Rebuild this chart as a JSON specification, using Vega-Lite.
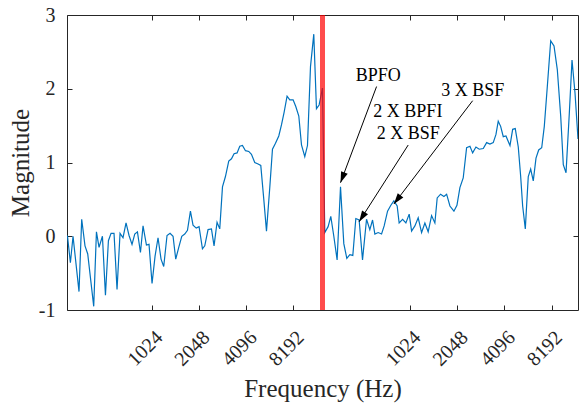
{
  "$schema": "https://vega.github.io/schema/vega-lite/v6.json",
  "width": 511,
  "height": 295,
  "autosize": {"type": "none"},
  "padding": {"left": 67, "top": 15, "right": 1, "bottom": 97},
  "background": "white",
  "config": {
    "font": "'Liberation Serif', 'Times New Roman', 'DejaVu Serif', serif",
    "view": {"stroke": "#262626", "strokeWidth": 1},
    "axis": {
      "grid": false, "domain": false,
      "tickColor": "#262626", "tickSize": -5, "tickWidth": 1,
      "labelFont": "'Liberation Serif', 'Times New Roman', 'DejaVu Serif', serif", "labelFontSize": 20, "labelColor": "#262626",
      "titleFont": "'Liberation Serif', 'Times New Roman', 'DejaVu Serif', serif", "titleFontSize": 25, "titleColor": "#262626", "titleFontWeight": "normal",
      "labelOverlap": false, "labelFlush": false
    }
  },
  "datasets": {
    "half1": [
      {"octave": 8.204, "magnitude": 0.01}, {"octave": 8.267, "magnitude": -0.36}, {"octave": 8.323, "magnitude": 0.0},
      {"octave": 8.45, "magnitude": -0.75}, {"octave": 8.507, "magnitude": 0.23}, {"octave": 8.577, "magnitude": -0.13},
      {"octave": 8.635, "magnitude": -0.24}, {"octave": 8.762, "magnitude": -0.95}, {"octave": 8.82, "magnitude": 0.06},
      {"octave": 8.875, "magnitude": -0.15}, {"octave": 8.947, "magnitude": 0.0}, {"octave": 9.011, "magnitude": -0.8},
      {"octave": 9.074, "magnitude": -0.06}, {"octave": 9.13, "magnitude": 0.04}, {"octave": 9.193, "magnitude": 0.04},
      {"octave": 9.257, "magnitude": -0.72}, {"octave": 9.321, "magnitude": 0.04}, {"octave": 9.384, "magnitude": -0.02},
      {"octave": 9.448, "magnitude": 0.18}, {"octave": 9.512, "magnitude": 0.01}, {"octave": 9.575, "magnitude": -0.11},
      {"octave": 9.633, "magnitude": 0.03}, {"octave": 9.69, "magnitude": 0.06}, {"octave": 9.754, "magnitude": -0.22},
      {"octave": 9.809, "magnitude": 0.14}, {"octave": 9.881, "magnitude": -0.12}, {"octave": 9.936, "magnitude": -0.11},
      {"octave": 10.0, "magnitude": -0.64}, {"octave": 10.064, "magnitude": -0.27}, {"octave": 10.127, "magnitude": -0.02},
      {"octave": 10.191, "magnitude": -0.31}, {"octave": 10.248, "magnitude": -0.41}, {"octave": 10.318, "magnitude": 0.01},
      {"octave": 10.382, "magnitude": 0.04}, {"octave": 10.446, "magnitude": 0.0}, {"octave": 10.503, "magnitude": -0.31},
      {"octave": 10.567, "magnitude": -0.15}, {"octave": 10.631, "magnitude": 0.0}, {"octave": 10.694, "magnitude": 0.03},
      {"octave": 10.752, "magnitude": 0.08}, {"octave": 10.815, "magnitude": 0.34}, {"octave": 10.87, "magnitude": 0.15},
      {"octave": 10.938, "magnitude": 0.11}, {"octave": 10.998, "magnitude": 0.13}, {"octave": 11.07, "magnitude": -0.17},
      {"octave": 11.119, "magnitude": -0.13}, {"octave": 11.189, "magnitude": 0.09}, {"octave": 11.261, "magnitude": 0.1},
      {"octave": 11.316, "magnitude": -0.13}, {"octave": 11.38, "magnitude": 0.19}, {"octave": 11.437, "magnitude": 0.1},
      {"octave": 11.495, "magnitude": 0.67}, {"octave": 11.558, "magnitude": 0.81}, {"octave": 11.628, "magnitude": 1.02},
      {"octave": 11.686, "magnitude": 1.05}, {"octave": 11.741, "magnitude": 1.12}, {"octave": 11.805, "magnitude": 1.13},
      {"octave": 11.862, "magnitude": 1.22}, {"octave": 11.919, "magnitude": 1.23}, {"octave": 11.983, "magnitude": 1.16},
      {"octave": 12.053, "magnitude": 1.15}, {"octave": 12.11, "magnitude": 1.11}, {"octave": 12.18, "magnitude": 1.0},
      {"octave": 12.251, "magnitude": 0.98}, {"octave": 12.308, "magnitude": 0.96}, {"octave": 12.372, "magnitude": 0.5},
      {"octave": 12.429, "magnitude": 0.07}, {"octave": 12.499, "magnitude": 0.66}, {"octave": 12.556, "magnitude": 1.18},
      {"octave": 12.62, "magnitude": 1.26}, {"octave": 12.69, "magnitude": 1.36}, {"octave": 12.747, "magnitude": 1.51},
      {"octave": 12.803, "magnitude": 1.68}, {"octave": 12.866, "magnitude": 1.9}, {"octave": 12.924, "magnitude": 1.85},
      {"octave": 12.994, "magnitude": 1.85}, {"octave": 13.051, "magnitude": 1.76}, {"octave": 13.115, "magnitude": 1.63},
      {"octave": 13.172, "magnitude": 1.24}, {"octave": 13.242, "magnitude": 1.08}, {"octave": 13.299, "magnitude": 1.23},
      {"octave": 13.363, "magnitude": 2.3}, {"octave": 13.433, "magnitude": 2.74}, {"octave": 13.49, "magnitude": 1.73},
      {"octave": 13.546, "magnitude": 1.78}, {"octave": 13.618, "magnitude": 2.01}
    ],
    "half2": [
      {"octave": 8.14, "magnitude": 2.01}, {"octave": 8.189, "magnitude": 0.05}, {"octave": 8.259, "magnitude": 0.13},
      {"octave": 8.316, "magnitude": 0.27}, {"octave": 8.38, "magnitude": 0.0}, {"octave": 8.45, "magnitude": -0.32},
      {"octave": 8.522, "magnitude": 0.67}, {"octave": 8.592, "magnitude": -0.1}, {"octave": 8.656, "magnitude": -0.3},
      {"octave": 8.72, "magnitude": -0.25}, {"octave": 8.783, "magnitude": -0.26}, {"octave": 8.847, "magnitude": 0.24},
      {"octave": 8.917, "magnitude": 0.22}, {"octave": 8.989, "magnitude": -0.32}, {"octave": 9.074, "magnitude": 0.23},
      {"octave": 9.144, "magnitude": 0.09}, {"octave": 9.202, "magnitude": 0.22}, {"octave": 9.251, "magnitude": 0.03},
      {"octave": 9.321, "magnitude": 0.05}, {"octave": 9.393, "magnitude": 0.03}, {"octave": 9.448, "magnitude": 0.14},
      {"octave": 9.52, "magnitude": 0.34}, {"octave": 9.59, "magnitude": 0.42}, {"octave": 9.654, "magnitude": 0.48},
      {"octave": 9.724, "magnitude": 0.41}, {"octave": 9.766, "magnitude": 0.18}, {"octave": 9.839, "magnitude": 0.23},
      {"octave": 9.909, "magnitude": 0.18}, {"octave": 9.979, "magnitude": 0.3}, {"octave": 10.03, "magnitude": 0.07},
      {"octave": 10.1, "magnitude": 0.14}, {"octave": 10.17, "magnitude": 0.25}, {"octave": 10.242, "magnitude": 0.05},
      {"octave": 10.312, "magnitude": 0.18}, {"octave": 10.382, "magnitude": 0.06}, {"octave": 10.454, "magnitude": 0.28},
      {"octave": 10.524, "magnitude": 0.18}, {"octave": 10.573, "magnitude": 0.52}, {"octave": 10.645, "magnitude": 0.57},
      {"octave": 10.716, "magnitude": 0.54}, {"octave": 10.773, "magnitude": 0.57}, {"octave": 10.843, "magnitude": 0.41},
      {"octave": 10.928, "magnitude": 0.34}, {"octave": 10.992, "magnitude": 0.42}, {"octave": 11.055, "magnitude": 0.66},
      {"octave": 11.125, "magnitude": 0.79}, {"octave": 11.197, "magnitude": 1.2}, {"octave": 11.268, "magnitude": 1.22},
      {"octave": 11.325, "magnitude": 1.13}, {"octave": 11.395, "magnitude": 1.21}, {"octave": 11.465, "magnitude": 1.18},
      {"octave": 11.55, "magnitude": 1.19}, {"octave": 11.622, "magnitude": 1.27}, {"octave": 11.692, "magnitude": 1.25},
      {"octave": 11.762, "magnitude": 1.27}, {"octave": 11.82, "magnitude": 1.38}, {"octave": 11.868, "magnitude": 1.56},
      {"octave": 11.919, "magnitude": 1.49}, {"octave": 11.975, "magnitude": 1.35}, {"octave": 12.032, "magnitude": 1.36},
      {"octave": 12.117, "magnitude": 1.23}, {"octave": 12.174, "magnitude": 1.45}, {"octave": 12.229, "magnitude": 1.46},
      {"octave": 12.293, "magnitude": 1.21}, {"octave": 12.344, "magnitude": 0.81}, {"octave": 12.386, "magnitude": 0.41},
      {"octave": 12.442, "magnitude": 0.1}, {"octave": 12.505, "magnitude": 0.81}, {"octave": 12.556, "magnitude": 0.91},
      {"octave": 12.611, "magnitude": 0.75}, {"octave": 12.669, "magnitude": 1.06}, {"octave": 12.726, "magnitude": 1.17},
      {"octave": 12.79, "magnitude": 1.2}, {"octave": 12.845, "magnitude": 1.49}, {"octave": 12.909, "magnitude": 2.03},
      {"octave": 12.981, "magnitude": 2.65}, {"octave": 13.051, "magnitude": 2.58}, {"octave": 13.121, "magnitude": 2.26},
      {"octave": 13.193, "magnitude": 1.63}, {"octave": 13.248, "magnitude": 0.97}, {"octave": 13.306, "magnitude": 0.86},
      {"octave": 13.376, "magnitude": 1.67}, {"octave": 13.433, "magnitude": 2.39}, {"octave": 13.497, "magnitude": 1.94},
      {"octave": 13.56, "magnitude": 1.32}
    ],
    "divider": [{"octave": 13.618}],
    "notes": [
      {"octave": 9.321, "magnitude": 2.109, "label": "BPFO"},
      {"octave": 9.951, "magnitude": 1.613, "label": "2 X BPFI"},
      {"octave": 9.958, "magnitude": 1.315, "label": "2 X BSF"},
      {"octave": 11.327, "magnitude": 1.902, "label": "3 X BSF"}
    ],
    "arrows": [
      {"id": "BPFO", "octave": 9.287, "magnitude": 2.03, "tipOctave": 8.522, "tipMagnitude": 0.726},
      {"id": "2X", "octave": 9.958, "magnitude": 1.237, "tipOctave": 8.917, "tipMagnitude": 0.197},
      {"id": "3X", "octave": 11.325, "magnitude": 1.838, "tipOctave": 9.654, "tipMagnitude": 0.437}
    ]
  },
  "layer": [
    {
      "data": {"name": "half1"},
      "mark": {"type": "line", "color": "#0072BD", "strokeWidth": 1.2, "clip": true},
      "encoding": {
        "x": {"field": "octave", "type": "quantitative",
          "scale": {"domain": [8.195, 13.618], "range": [0, 255.5], "nice": false, "zero": false},
          "axis": {"orient": "bottom", "values": [10, 11, 12, 13], "labelExpr": "'' + pow(2, datum.value)",
            "labelAngle": -45, "labelAlign": "right", "labelBaseline": "middle", "labelPadding": 29, "labelOffset": 7,
            "title": "Frequency (Hz)", "titleX": 255.5, "titleY": 86, "titleAlign": "center", "titleBaseline": "alphabetic"}},
        "y": {"field": "magnitude", "type": "quantitative",
          "scale": {"domain": [-1, 3], "nice": false, "zero": false},
          "axis": {"orient": "left", "values": [-1, 0, 1, 2, 3],
            "labelExpr": "datum.value < 0 ? '-' + abs(datum.value) : '' + datum.value",
            "labelPadding": 17, "title": "Magnitude", "titleX": -38.5, "titleY": 147.5, "titleAngle": -90,
            "titleAlign": "center", "titleBaseline": "alphabetic"}}
      }
    },
    {
      "data": {"name": "half2"},
      "mark": {"type": "line", "color": "#0072BD", "strokeWidth": 1.2, "clip": true},
      "encoding": {
        "x": {"field": "octave", "type": "quantitative",
          "scale": {"domain": [8.14, 13.56], "range": [255.5, 511], "nice": false, "zero": false},
          "axis": {"orient": "bottom", "values": [10, 11, 12, 13], "labelExpr": "'' + pow(2, datum.value)",
            "labelAngle": -45, "labelAlign": "right", "labelBaseline": "middle", "labelPadding": 29, "labelOffset": 7,
            "title": null}},
        "y": {"field": "magnitude", "type": "quantitative",
          "scale": {"domain": [-1, 3], "nice": false, "zero": false},
          "axis": {"orient": "right", "values": [0, 1, 2], "labels": false, "title": null}}
      }
    },
    {
      "data": {"name": "half1"},
      "mark": {"type": "line", "opacity": 0},
      "encoding": {
        "x": {"field": "octave", "type": "quantitative",
          "scale": {"domain": [8.195, 13.618], "range": [0, 255.5], "nice": false, "zero": false},
          "axis": {"orient": "top", "values": [10, 11, 12, 13], "labels": false, "title": null}},
        "y": {"field": "magnitude", "type": "quantitative",
          "scale": {"domain": [-1, 3], "nice": false, "zero": false}, "axis": null}
      }
    },
    {
      "data": {"name": "half2"},
      "mark": {"type": "line", "opacity": 0},
      "encoding": {
        "x": {"field": "octave", "type": "quantitative",
          "scale": {"domain": [8.14, 13.56], "range": [255.5, 511], "nice": false, "zero": false},
          "axis": {"orient": "top", "values": [10, 11, 12, 13], "labels": false, "title": null}},
        "y": {"field": "magnitude", "type": "quantitative",
          "scale": {"domain": [-1, 3], "nice": false, "zero": false}, "axis": null}
      }
    },
    {
      "data": {"name": "divider"},
      "mark": {"type": "rule", "color": "#FF0000", "opacity": 0.7, "strokeWidth": 5},
      "encoding": {
        "x": {"field": "octave", "type": "quantitative",
          "scale": {"domain": [8.195, 13.618], "range": [0, 255.5], "nice": false, "zero": false}, "axis": null}
      }
    },
    {
      "data": {"name": "arrows"},
      "mark": {"type": "rule", "color": "black", "strokeWidth": 1},
      "encoding": {
        "x": {"field": "octave", "type": "quantitative",
          "scale": {"domain": [8.14, 13.56], "range": [255.5, 511], "nice": false, "zero": false}, "axis": null},
        "x2": {"field": "tipOctave"},
        "y": {"field": "magnitude", "type": "quantitative",
          "scale": {"domain": [-1, 3], "nice": false, "zero": false}, "axis": null},
        "y2": {"field": "tipMagnitude"}
      }
    },
    {
      "data": {"name": "arrows"},
      "transform": [{"filter": "datum.id == 'BPFO'"}],
      "mark": {"type": "point", "shape": "M0,0L-0.64,2L0.64,2Z", "size": 121, "filled": true, "color": "black", "opacity": 1, "angle": 200.6},
      "encoding": {
        "x": {"field": "tipOctave", "type": "quantitative",
          "scale": {"domain": [8.14, 13.56], "range": [255.5, 511], "nice": false, "zero": false}, "axis": null},
        "y": {"field": "tipMagnitude", "type": "quantitative",
          "scale": {"domain": [-1, 3], "nice": false, "zero": false}, "axis": null}
      }
    },
    {
      "data": {"name": "arrows"},
      "transform": [{"filter": "datum.id == '2X'"}],
      "mark": {"type": "point", "shape": "M0,0L-0.64,2L0.64,2Z", "size": 121, "filled": true, "color": "black", "opacity": 1, "angle": 212.5},
      "encoding": {
        "x": {"field": "tipOctave", "type": "quantitative",
          "scale": {"domain": [8.14, 13.56], "range": [255.5, 511], "nice": false, "zero": false}, "axis": null},
        "y": {"field": "tipMagnitude", "type": "quantitative",
          "scale": {"domain": [-1, 3], "nice": false, "zero": false}, "axis": null}
      }
    },
    {
      "data": {"name": "arrows"},
      "transform": [{"filter": "datum.id == '3X'"}],
      "mark": {"type": "point", "shape": "M0,0L-0.64,2L0.64,2Z", "size": 121, "filled": true, "color": "black", "opacity": 1, "angle": 217.3},
      "encoding": {
        "x": {"field": "tipOctave", "type": "quantitative",
          "scale": {"domain": [8.14, 13.56], "range": [255.5, 511], "nice": false, "zero": false}, "axis": null},
        "y": {"field": "tipMagnitude", "type": "quantitative",
          "scale": {"domain": [-1, 3], "nice": false, "zero": false}, "axis": null}
      }
    },
    {
      "data": {"name": "notes"},
      "mark": {"type": "text", "font": "'Liberation Serif', 'Times New Roman', 'DejaVu Serif', serif", "fontSize": 18, "color": "black", "align": "center", "baseline": "alphabetic"},
      "encoding": {
        "x": {"field": "octave", "type": "quantitative",
          "scale": {"domain": [8.14, 13.56], "range": [255.5, 511], "nice": false, "zero": false}, "axis": null},
        "y": {"field": "magnitude", "type": "quantitative",
          "scale": {"domain": [-1, 3], "nice": false, "zero": false}, "axis": null},
        "text": {"field": "label", "type": "nominal"}
      }
    }
  ],
  "resolve": {"scale": {"x": "independent", "y": "independent"}, "axis": {"x": "independent", "y": "independent"}}
}
